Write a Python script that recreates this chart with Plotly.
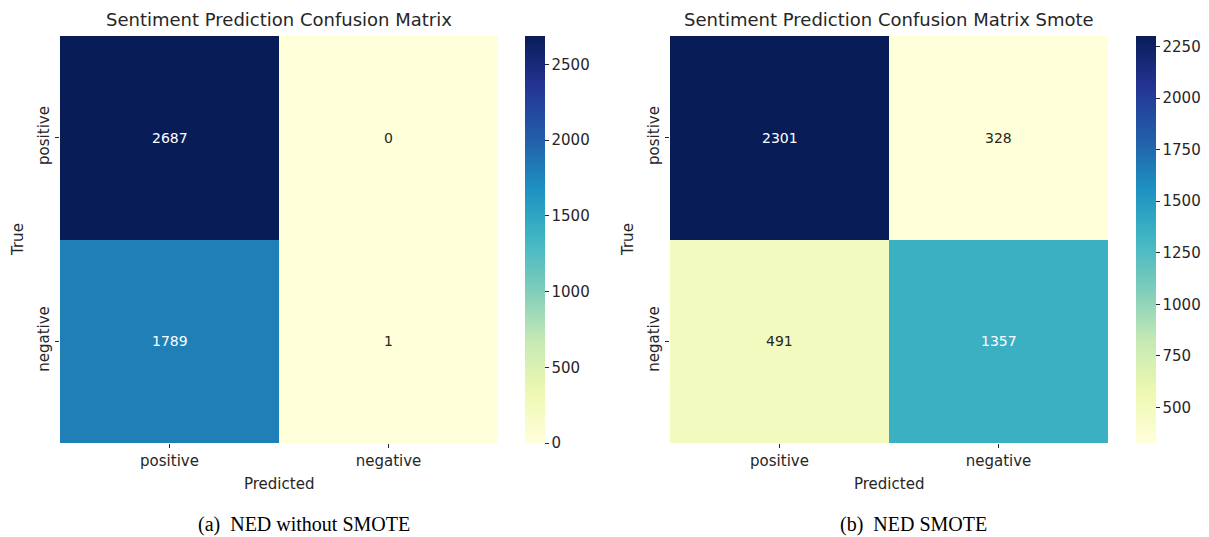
import plotly.graph_objects as go

labels = ["positive", "negative"]
cm_plain = [[2687, 0], [1789, 1]]
cm_smote = [[2301, 328], [491, 1357]]
titles = ["Sentiment Prediction Confusion Matrix",
          "Sentiment Prediction Confusion Matrix Smote"]
captions = ["(a)  NED without SMOTE", "(b)  NED SMOTE"]
cb_ticks_plain = [0, 500, 1000, 1500, 2000, 2500]
cb_ticks_smote = [500, 750, 1000, 1250, 1500, 1750, 2000, 2250]

ylgnbu = [
    [0.000, "#ffffd9"], [0.125, "#edf8b1"], [0.250, "#c7e9b4"],
    [0.375, "#7fcdbb"], [0.500, "#41b6c4"], [0.625, "#1d91c0"],
    [0.750, "#225ea8"], [0.875, "#253494"], [1.000, "#081d58"],
]

W, H = 1209, 537
font = "DejaVu Sans, sans-serif"
ink = "#262626"

panels = [
    dict(z=cm_plain, ticks=cb_ticks_plain, x0=60, x1=498, cbx=525, capx=304),
    dict(z=cm_smote, ticks=cb_ticks_smote, x0=670, x1=1108, cbx=1136, capx=913),
]
top, bottom = 36, 443


def paper_text(x_px, y_px, text, size, family=font, color=ink, angle=0):
    return dict(x=x_px / W, y=1 - y_px / H, xref="paper", yref="paper",
                xanchor="center", yanchor="middle", text=text,
                textangle=angle, showarrow=False,
                font=dict(family=family, size=size, color=color))


fig = go.Figure()
annotations = []
for i, p in enumerate(panels):
    zmin = min(min(r) for r in p["z"])
    zmax = max(max(r) for r in p["z"])
    xa = "x" if i == 0 else "x2"
    ya = "y" if i == 0 else "y2"
    fig.add_trace(go.Heatmap(
        z=p["z"], x=labels, y=labels, xaxis=xa, yaxis=ya,
        colorscale=ylgnbu, zmin=zmin, zmax=zmax, xgap=0, ygap=0,
        colorbar=dict(
            x=p["cbx"] / W, xanchor="left", xref="paper", xpad=0,
            y=1 - top / H, yanchor="top", ypad=0,
            lenmode="pixels", len=bottom - top,
            thickness=20, thicknessmode="pixels",
            outlinewidth=0, tickvals=p["ticks"],
            ticks="outside", ticklen=4, tickcolor=ink,
            tickfont=dict(family=font, size=15, color=ink),
        ),
    ))
    # cell annotations: light text on dark cells, dark text on light ones
    for r, row in enumerate(p["z"]):
        for c, v in enumerate(row):
            frac = (v - zmin) / (zmax - zmin)
            annotations.append(dict(
                x=labels[c], y=labels[r], xref=xa, yref=ya,
                text=str(v), showarrow=False,
                font=dict(family=font, size=14,
                          color="#ffffff" if frac > 0.45 else ink),
            ))
    cx = (p["x0"] + p["x1"]) / 2
    annotations.append(paper_text(cx, 19, titles[i], 18))
    annotations.append(paper_text(cx, 484, "Predicted", 15))
    annotations.append(paper_text(p["x0"] - 42, 240, "True", 15, angle=-90))
    # sub-figure caption sits flush with the bottom edge
    annotations.append(dict(
        x=p["capx"] / W, y=0, xref="paper", yref="paper",
        xanchor="center", yanchor="bottom", borderpad=0,
        text=captions[i], showarrow=False,
        font=dict(family="Liberation Serif, serif", size=20, color="#000000")))

axis_common = dict(
    ticks="outside", ticklen=4, tickcolor=ink, showgrid=False,
    zeroline=False, showline=False,
    tickfont=dict(family=font, size=15, color=ink),
)
fig.update_layout(
    width=W, height=H, margin=dict(l=0, r=0, t=0, b=0),
    paper_bgcolor="white", plot_bgcolor="white",
    showlegend=False, annotations=annotations,
    xaxis=dict(domain=[60 / W, 498 / W], anchor="y", **axis_common),
    yaxis=dict(domain=[1 - bottom / H, 1 - top / H], anchor="x",
               autorange="reversed", tickangle=-90, **axis_common),
    xaxis2=dict(domain=[670 / W, 1108 / W], anchor="y2", **axis_common),
    yaxis2=dict(domain=[1 - bottom / H, 1 - top / H], anchor="x2",
                autorange="reversed", tickangle=-90, **axis_common),
)

fig.write_html("out.html")
